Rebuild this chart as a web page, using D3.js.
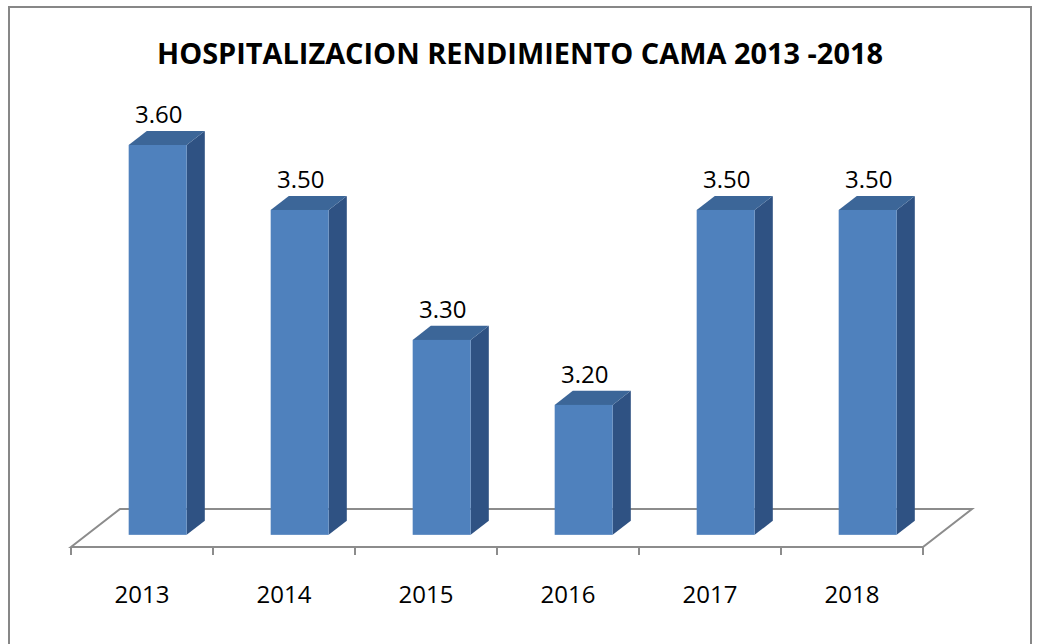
<!DOCTYPE html>
<html>
<head>
<meta charset="utf-8">
<script src="https://cdn.jsdelivr.net/npm/d3@7"></script>
<style>
  body { margin: 0; background: #fff; }
  svg { display: block; }
</style>
</head>
<body>
<div id="mount"></div>
<script>
var years = ['2013', '2014', '2015', '2016', '2017', '2018'];
var values = [3.60, 3.50, 3.30, 3.20, 3.50, 3.50];
var yDomain = [3.0, 3.6];
var TITLE = 'HOSPITALIZACION RENDIMIENTO CAMA 2013 -2018';

var width = 1037;
var height = 644;

// floor geometry (front edge + depth offset)
var floorY = 547;
var depthX = 49;
var depthY = -38;
// bar placement inside the floor depth
var barFront = 0.32;
var barDepth = 0.37;
var barW = 58;

var x = d3.scaleBand()
  .domain(years)
  .range([71, 923]);

var baseY = floorY + depthY * barFront;
var y = d3.scaleLinear()
  .domain(yDomain)
  .range([baseY, 145]);

var svg = d3.select('#mount')
  .append('svg')
  .attr('width', width)
  .attr('height', height);

// frame
svg.append('rect')
  .attr('x', 9).attr('y', 7)
  .attr('width', 1022).attr('height', 660)
  .attr('fill', '#fff')
  .attr('stroke', '#878787')
  .attr('stroke-width', 2);

// title
svg.append('text')
  .attr('x', 520).attr('y', 64)
  .attr('text-anchor', 'middle')
  .attr('font-family', 'Open Sans, Liberation Sans, sans-serif')
  .attr('font-weight', 'bold')
  .attr('font-size', 28)
  .attr('textLength', 726)
  .attr('lengthAdjust', 'spacingAndGlyphs')
  .attr('fill', '#000')
  .text(TITLE);

// floor
var x0 = x.range()[0], x1 = x.range()[1];
svg.append('path')
  .attr('d', 'M' + x0 + ',' + floorY +
    'L' + (x0 + depthX) + ',' + (floorY + depthY) +
    'L' + (x1 + depthX) + ',' + (floorY + depthY) +
    'L' + x1 + ',' + floorY + 'Z')
  .attr('fill', 'none')
  .attr('stroke', '#8c8c8c')
  .attr('stroke-width', 2);

// ticks
var tickPos = years.map(function (d) { return x(d); }).concat([x1]);
svg.selectAll('line.tick')
  .data(tickPos)
  .enter()
  .append('line')
  .attr('class', 'tick')
  .attr('x1', function (d) { return d; })
  .attr('x2', function (d) { return d; })
  .attr('y1', floorY)
  .attr('y2', floorY + 8)
  .attr('stroke', '#8c8c8c')
  .attr('stroke-width', 2);

// bars
var dx = depthX * barDepth;
var dy = depthY * barDepth;
var bars = svg.selectAll('g.bar')
  .data(years.map(function (d, i) { return { year: d, value: values[i] }; }))
  .enter()
  .append('g')
  .attr('class', 'bar');

function frontX(d) {
  return x(d.year) + x.bandwidth() / 2 + depthX * barFront - barW / 2;
}

// side face
bars.append('path')
  .attr('d', function (d) {
    var fx = frontX(d) + barW, ty = y(d.value);
    return 'M' + fx + ',' + ty + 'L' + (fx + dx) + ',' + (ty + dy) +
      'L' + (fx + dx) + ',' + (baseY + dy) + 'L' + fx + ',' + baseY + 'Z';
  })
  .attr('fill', '#2f5283');

// top face
bars.append('path')
  .attr('d', function (d) {
    var fx = frontX(d), ty = y(d.value);
    return 'M' + fx + ',' + ty + 'L' + (fx + dx) + ',' + (ty + dy) +
      'L' + (fx + barW + dx) + ',' + (ty + dy) + 'L' + (fx + barW) + ',' + ty + 'Z';
  })
  .attr('fill', '#3c6698');

// front face
bars.append('rect')
  .attr('x', frontX)
  .attr('y', function (d) { return y(d.value); })
  .attr('width', barW)
  .attr('height', function (d) { return baseY - y(d.value); })
  .attr('fill', '#4f81bd');

// value labels
bars.append('text')
  .attr('x', function (d) { return frontX(d) + barW / 2 + 1; })
  .attr('y', function (d) { return y(d.value) - 22; })
  .attr('text-anchor', 'middle')
  .attr('font-family', 'Open Sans, Liberation Sans, sans-serif')
  .attr('font-size', 24)
  .attr('fill', '#000')
  .text(function (d) { return d.value.toFixed(2); });

// category labels
svg.selectAll('text.cat')
  .data(years)
  .enter()
  .append('text')
  .attr('class', 'cat')
  .attr('x', function (d) { return x(d) + x.bandwidth() / 2; })
  .attr('y', 603)
  .attr('text-anchor', 'middle')
  .attr('font-family', 'Open Sans, Liberation Sans, sans-serif')
  .attr('font-size', 24)
  .attr('fill', '#000')
  .text(function (d) { return d; });
</script>
</body>
</html>
